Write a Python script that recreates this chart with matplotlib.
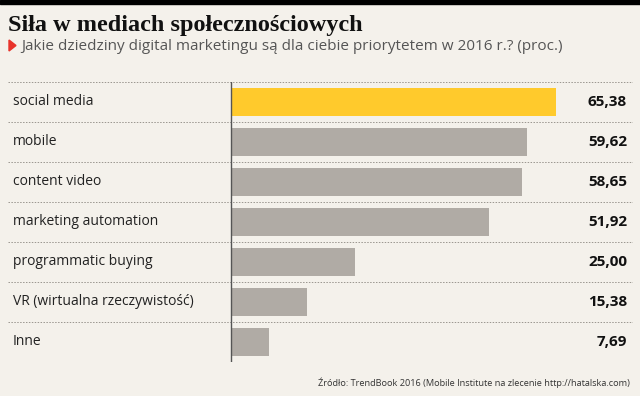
import matplotlib
matplotlib.use("Agg")
import matplotlib.pyplot as plt
from matplotlib.patches import Polygon, Rectangle

categories = ["social media", "mobile", "content video", "marketing automation",
              "programmatic buying", "VR (wirtualna rzeczywistość)", "Inne"]
values = [65.38, 59.62, 58.65, 51.92, 25.00, 15.38, 7.69]
value_labels = ["65,38", "59,62", "58,65", "51,92", "25,00", "15,38", "7,69"]
colors = ["#FFCA2C"] + ["#B0ABA5"] * 6

title = "Siła w mediach społecznościowych"
subtitle = "Jakie dziedziny digital marketingu są dla ciebie priorytetem w 2016 r.? (proc.)"
source = "Źródło: TrendBook 2016 (Mobile Institute na zlecenie http://hatalska.com)"

BG = "#F4F1EB"
W, H = 640, 396
fig = plt.figure(figsize=(W / 100, H / 100), dpi=100, facecolor=BG)

# axes in pixel geometry
left_px, right_px = 8, 633
top_px, bot_px = 81.5, 361.5
zero_px = 231
ppu = 4.97
ax = fig.add_axes([left_px / W, 1 - bot_px / H, (right_px - left_px) / W, (bot_px - top_px) / H])
ax.set_facecolor(BG)
xmin = -(zero_px - left_px) / ppu
xmax = (right_px - zero_px) / ppu
ax.set_xlim(xmin, xmax)
n = len(categories)
ax.set_ylim(n - 0.5, -0.5)
ypos = list(range(n))
ax.barh(ypos, values, height=0.7, color=colors, zorder=2)
for i in range(n + 1):
    ax.axhline(i - 0.5, color="#9a968f", lw=0.7, ls=(0, (1.5, 1.5)), zorder=1)
ax.axvline(0, color="#555555", lw=1.0, zorder=3)
for y, lab, vl in zip(ypos, categories, value_labels):
    ax.text(xmin + 5 / ppu, y, lab, ha="left", va="center", fontsize=10,
            family="Open Sans", color="#222222")
    ax.text(xmax - 6 / ppu, y, vl, ha="right", va="center", fontsize=11,
            family="Open Sans", fontweight="bold", color="#111111")
for s in ax.spines.values():
    s.set_visible(False)
ax.set_xticks([])
ax.set_yticks([])

# top black bar
fig.patches.append(Rectangle((0, 1 - 4 / H), 1, 4 / H, transform=fig.transFigure,
                             color="black", zorder=5))
fig.text(8 / W, 1 - 31 / H, title, fontsize=17.5, family="Liberation Serif",
         fontweight="bold", color="#111111", va="baseline")
fig.patches.append(Polygon([(9 / W, 1 - 40 / H), (9 / W, 1 - 51 / H), (16 / W, 1 - 45.5 / H)],
                           closed=True, transform=fig.transFigure, color="#E8332A"))
fig.text(21 / W, 1 - 50 / H, subtitle, fontsize=11, family="Open Sans",
         color="#555555", va="baseline")
fig.text(630 / W, 1 - 386 / H, source, fontsize=6.55, family="Open Sans",
         color="#333333", ha="right", va="baseline")

fig.savefig("out.png", dpi=100, facecolor=BG)
